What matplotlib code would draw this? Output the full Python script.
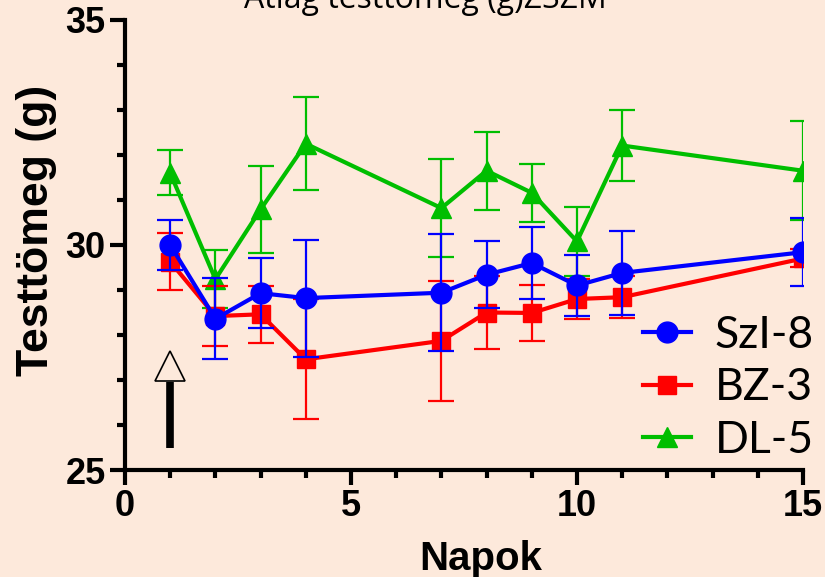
import numpy as np
import matplotlib.pyplot as plt
from matplotlib.ticker import MultipleLocator

# napok (days)
days = [1, 2, 3, 4, 7, 8, 9, 10, 11, 15]

# SzI-8 mean / SEM
szi_mean = [30.0, 28.36, 28.93, 28.82, 28.94, 29.34, 29.6, 29.1, 29.38, 29.84]
szi_err = [0.55, 0.9, 0.78, 1.3, 1.3, 0.75, 0.81, 0.68, 0.94, 0.76]

# BZ-3
bz_mean = [29.63, 28.42, 28.46, 27.46, 27.87, 28.5, 28.49, 28.8, 28.84, 29.7]
bz_err = [0.63, 0.67, 0.63, 1.33, 1.33, 0.82, 0.62, 0.45, 0.46, 0.2]

# DL-5
dl_mean = [31.6, 29.24, 30.79, 32.25, 30.82, 31.65, 31.16, 30.08, 32.21, 31.65]
dl_err = [0.5, 0.65, 0.97, 1.03, 1.08, 0.87, 0.65, 0.77, 0.79, 1.1]

series_names = ['SzI-8', 'BZ-3', 'DL-5']

# arrow marking day 1
arrow_x = 1
arrow_tail = 25.5
arrow_neck = 26.96
arrow_head = 27.31

bg = '#fde9db'
plt.rcParams['font.family'] = ['Liberation Sans', 'DejaVu Sans']

fig = plt.figure(figsize=(8.25, 5.77), dpi=100, facecolor=bg)
ax = fig.add_axes([0.1515, 0.1854, 0.8218, 0.78])
ax.set_facecolor(bg)

style = dict(lw=3, elinewidth=1.6, capsize=9.5, capthick=1.6)
h_dl = ax.errorbar(days, dl_mean, yerr=dl_err, color='#00be00', marker='^', ms=15,
                   zorder=2, **style)
h_bz = ax.errorbar(days, bz_mean, yerr=bz_err, color='#ff0000', marker='s', ms=13,
                   zorder=3, **style)
h_szi = ax.errorbar(days, szi_mean, yerr=szi_err, color='#0000ff', marker='o', ms=15,
                    zorder=4, **style)

# arrow: thick shaft + hollow head
ax.plot([arrow_x, arrow_x], [arrow_tail, arrow_neck], color='black', lw=5.5,
        solid_capstyle='butt', zorder=5)
ax.plot([arrow_x], [arrow_head], marker='^', ms=22, mfc=bg, mec='black', mew=1.2,
        zorder=5)

ax.set_xlim(0, 15)
ax.set_ylim(25, 35)
ax.xaxis.set_major_locator(MultipleLocator(5))
ax.xaxis.set_minor_locator(MultipleLocator(1))
ax.yaxis.set_major_locator(MultipleLocator(5))
ax.yaxis.set_minor_locator(MultipleLocator(1))

for s in ['top', 'right']:
    ax.spines[s].set_visible(False)
for s in ['left', 'bottom']:
    ax.spines[s].set_linewidth(3)
ax.tick_params(which='major', length=11, width=3, labelsize=26, pad=3)
ax.tick_params(which='minor', length=6, width=3)
for lab in ax.get_xticklabels() + ax.get_yticklabels():
    lab.set_fontweight('bold')

ax.set_xlabel('Napok', fontsize=29, fontweight='bold')
ax.xaxis.set_label_coords(0.524, -0.155)
ax.set_ylabel('Testtömeg (g)', fontsize=32, fontweight='bold')
ax.yaxis.set_label_coords(-0.1, 0.533)

leg = ax.legend([h_szi[0], h_bz[0], h_dl[0]], series_names, loc='upper left',
                bbox_to_anchor=(0.764, 0.345), frameon=False,
                handlelength=1.07, handletextpad=0.55, labelspacing=0.26,
                borderpad=0, borderaxespad=0, prop={'family': 'Lato', 'size': 32})

fig.text(0.515, 0.986, 'Átlag testtömeg (g)ZSZM', ha='center', va='baseline',
         fontsize=23, family='Open Sans')

fig.savefig('out.png', facecolor=bg)
